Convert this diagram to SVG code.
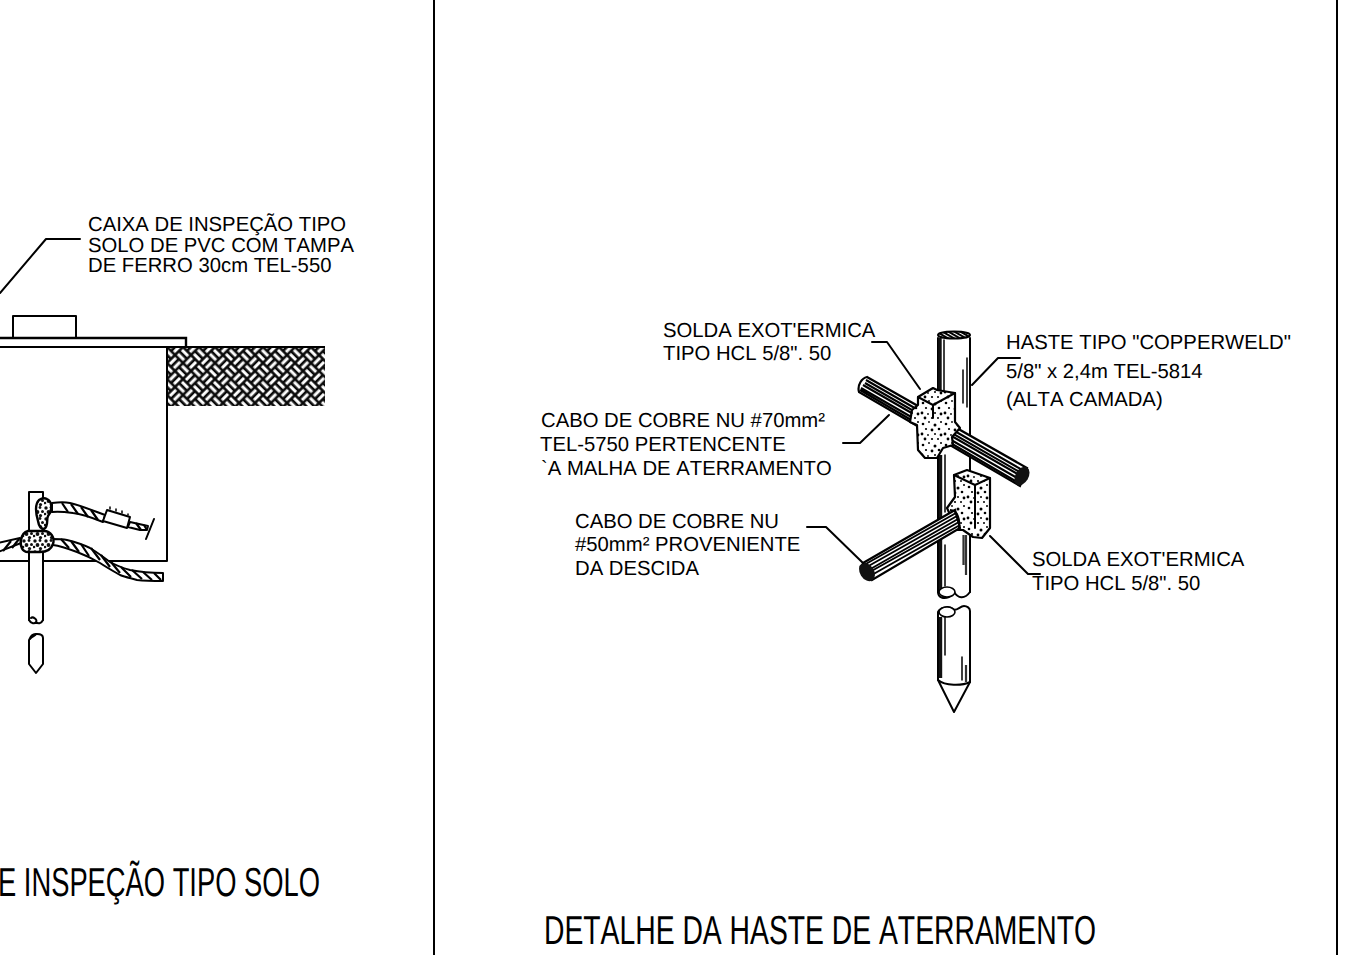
<svg xmlns="http://www.w3.org/2000/svg" width="1349" height="955" viewBox="0 0 1349 955">
<style>
text{font-family:"Liberation Sans",Arial,sans-serif;fill:#000;text-rendering:geometricPrecision;font-kerning:none}
.t{font-size:20.3px}
.h{font-size:40.5px}
.l{fill:none;stroke:#000;stroke-width:2;stroke-linejoin:round;stroke-linecap:round}
.m{fill:none;stroke:#000;stroke-width:1.5;stroke-linecap:round}
.k{fill:none;stroke:#000;stroke-width:2.2}
.w{fill:#fff;stroke:#000;stroke-width:2;stroke-linejoin:round}
.s{fill:url(#stip);stroke:#000;stroke-width:2.2;stroke-linejoin:round}
.sl{fill:url(#stip2);stroke:#000;stroke-width:2.4;stroke-linejoin:round}
.d{fill:none;stroke:#111;stroke-width:3.4}
.g{fill:none;stroke:#333;stroke-width:2.2}
</style>
<defs>
<pattern id="weave" width="22.63" height="22.63" patternUnits="userSpaceOnUse" patternTransform="translate(167 347) rotate(45)">
<rect width="22.63" height="22.63" fill="#0a0a0a"/>
<g fill="#fff">
<rect x="1.3" y="1.3" width="8.7" height="3"/><rect x="1.3" y="7" width="8.7" height="3"/>
<rect x="12.6" y="12.6" width="8.7" height="3"/><rect x="12.6" y="18.3" width="8.7" height="3"/>
<rect x="12.6" y="1.3" width="3" height="8.7"/><rect x="18.3" y="1.3" width="3" height="8.7"/>
<rect x="1.3" y="12.6" width="3" height="8.7"/><rect x="7" y="12.6" width="3" height="8.7"/>
</g>
</pattern>
<pattern id="stip" width="23" height="21" patternUnits="userSpaceOnUse">
<rect width="23" height="21" fill="#fff"/>
<g fill="#000"><circle cx="3" cy="4" r="1.3"/><circle cx="9" cy="2" r=".9"/><circle cx="15" cy="5" r="1.5"/><circle cx="21" cy="2" r="1"/><circle cx="6" cy="9" r="1.1"/><circle cx="12" cy="10" r="1.4"/><circle cx="19" cy="9" r="1.3"/><circle cx="2" cy="14" r="1.4"/><circle cx="8" cy="15" r=".9"/><circle cx="15" cy="14" r="1"/><circle cx="21" cy="15" r="1.4"/><circle cx="5" cy="19" r="1.4"/><circle cx="12" cy="19" r="1.1"/><circle cx="18" cy="19" r="1"/></g>
</pattern>
<pattern id="stip2" width="11" height="11" patternUnits="userSpaceOnUse">
<rect width="11" height="11" fill="#fff"/>
<g fill="#111"><circle cx="2" cy="2" r="1.7"/><circle cx="7" cy="1.5" r="1.4"/><circle cx="4.5" cy="6" r="1.9"/><circle cx="9.5" cy="5.5" r="1.5"/><circle cx="1" cy="8" r="1.3"/><circle cx="7.5" cy="9.5" r="1.6"/></g>
</pattern>
<pattern id="top" width="3" height="3" patternUnits="userSpaceOnUse" patternTransform="rotate(-60)">
<rect width="3" height="3" fill="#fff"/><rect width="2" height="3" fill="#000"/>
</pattern>
</defs>

<g id="frame"><path class="l" d="M434 0V955M1337 0V955"/></g>

<g id="inspection-box">
<rect x="167" y="347" width="158" height="59" fill="url(#weave)"/>
<path d="M167 347H325" stroke="#000" stroke-width="2"/>
<path class="l" d="M13 338V316H76V338"/>
<path d="M0 338H186V347" fill="none" stroke="#000" stroke-width="2.4"/>
<path class="l" d="M0 347H186M167 347V561H43M29 561H0"/>
</g>

<g id="box-rod">
<path class="l" d="M29 620V492H43V620"/>
<path class="l" d="M29 620C31 624 35 624 36 622C38 620 33 616 31 618M36 622C38 624 41 624 43 620"/>
<path class="w" d="M29 640C31 635 33 634 37 634C41 634 43 635 43 638V664L36 673L29 664Z"/>
<path class="l" d="M30 639C32 636 35 636 36 634" stroke-width="1.5"/>
</g>
<g id="box-cables">
<path class="w" d="M52 503C60 502 65 502 70 503C82 506 94 511 105 515L103 522C93 518 83 514 73 513C66 512 59 511 52 512Z"/>
<path class="k" d="M62 503l6 9M71 504l7 10M81 507l7 10M91 510l7 10"/>
<path class="w" d="M107 510L130 517L127 528L103 521Z"/>
<path class="m" d="M110 509V507M116 511V509M122 513V511M128 515V514"/>
<path class="w" d="M130 522L148 526L147 530H140L128 527Z"/>
<path class="k" d="M136 523l5 7M144 525l3 5"/>
<path class="l" d="M154 519L146 539"/>
<path class="w" d="M-2 543L20 538L21 543L-2 552Z"/>
<path class="k" d="M3 551l8 -10M12 548l7 -9"/>
<path class="w" d="M53 539C58 539 62 539 67 540C75 542 82 544 90 548C97 552 103 557 110 562C117 566 123 568 130 570C140 572 150 573 163 573V581C155 581 146 581 137 580C130 578 125 577 120 575C113 571 106 567 100 563C93 559 85 555 77 552C69 549 61 546 53 545Z"/>
<path class="k" d="M61 539l8 9M71 541l8 11M81 544l8 12M91 548l9 12M101 555l9 12M111 562l9 11M121 567l10 10M132 570l10 9M143 572l9 8M154 573l7 7"/>
<path class="sl" d="M47 499C52 501 53 510 48 516C46 520 49 526 44 529C41 529 39 527 38 521C36 514 34 505 39 500C42 498 45 498 47 499Z"/>
<path class="sl" d="M28 531H44C51 531 55 538 53 544C51 550 46 552 40 552H28C22 552 20 546 21 540C22 534 24 532 28 531Z"/>
</g>

<g id="haste-rod">
<path class="l" d="M938 338V592M970 338V592"/>
<path class="l" d="M938 592C938 598 944 599 949 597M954 592C958 598 964 600 970 592" stroke-width="1.6"/>
<ellipse cx="954" cy="335" rx="16" ry="3.5" fill="url(#top)" stroke="#000" stroke-width="2"/>
<path class="d" d="M940 338V395M940.5 455V590"/>
<path class="m" d="M944 340V394M945 455V512M945 545V586M967 358V407M963 370V403"/>
<path class="g" d="M966 535V575M963.5 535V565"/>
<ellipse cx="947" cy="592" rx="8" ry="5" fill="#fff" stroke="#000" stroke-width="1.6"/>
<path class="w" d="M938 612C940 608 948 605 953 609C956 612 960 606 964 606C967 606 970 608 970 611V682L954 712L938 680Z"/>
<ellipse cx="947" cy="612" rx="8" ry="5" fill="#fff" stroke="#000" stroke-width="1.6"/>
<path class="l" d="M938 680C945 686 962 686 970 682"/>
<path class="d" d="M940.5 617V678"/>
<path class="m" d="M945 617V655M962 657V680"/>
<path class="g" d="M966 665V682"/>
</g>

<g id="upper-cable">
<path d="M867 377L1027 468L1020 486L859 392C857 385 862 378 867 377Z" fill="#fff" stroke="#000" stroke-width="2.2"/>
<path d="M866 380L1024 471M865 383L1023 474M863 385L1021 476M861 388L1019 479M860 390L1017 482" stroke="#000" stroke-width="2.1" fill="none"/>
<ellipse cx="1022" cy="476" rx="6.5" ry="10" transform="rotate(30 1022 476)" fill="#111"/>
</g>
<g id="upper-weld">
<path class="s" d="M918 397L933 388L937 390L955 393V422L960 428L952 437L953 445L943 448L937 458H925L918 450L917 425L910 422L912 410L918 405Z"/>
<path class="l" d="M918 397L933 405L955 393M933 405V418" stroke-width="1.2"/>
</g>
<g id="lower-weld">
<path class="s" d="M954 475L967 470L990 478V528L982 538L973 537L963 530H957L947 508L955 497Z"/>
<path class="l" d="M954 475L975 485L990 478M975 485V528" stroke-width="1.2"/>
</g>
<g id="lower-cable">
<path d="M863 563L955 510L960 528L872 580Z" fill="#fff" stroke="#000" stroke-width="2.2"/>
<path d="M864 565L956 513M865 568L957 516M867 571L958 519M868 573L959 522M870 576L960 525" stroke="#000" stroke-width="2" fill="none"/>
<ellipse cx="867" cy="572" rx="7" ry="10" transform="rotate(-32 867 572)" fill="#111"/>
<path d="M950 510C958 510 960 520 959 528" fill="none" stroke="#000" stroke-width="2"/>
</g>

<g id="connectors">
<path class="l" d="M0 293L46 239H80"/>
<path class="l" d="M872 342H887L920 389"/>
<path class="l" d="M1020 358H998L972 385"/>
<path class="l" d="M843 443H860L889 415"/>
<path class="l" d="M807 527H826L863 563"/>
<path class="l" d="M990 536L1028 574H1040"/>
</g>

<g id="label-caixa" class="t"><text x="88" y="231">CAIXA DE INSPEÇÃO TIPO</text><text x="88" y="252">SOLO DE PVC COM TAMPA</text><text x="88" y="272">DE FERRO 30cm TEL-550</text></g>
<g id="label-solda1" class="t"><text x="663" y="337">SOLDA EXOT'ERMICA</text><text x="663" y="360">TIPO HCL 5/8". 50</text></g>
<g id="label-haste" class="t"><text x="1006" y="349">HASTE TIPO "COPPERWELD"</text><text x="1006" y="378">5/8" x 2,4m TEL-5814</text><text x="1006" y="406">(ALTA CAMADA)</text></g>
<g id="label-cabo70" class="t"><text x="541" y="427">CABO DE COBRE NU #70mm²</text><text x="540" y="451">TEL-5750 PERTENCENTE</text><text x="541" y="475">`A MALHA DE ATERRAMENTO</text></g>
<g id="label-cabo50" class="t"><text x="575" y="528">CABO DE COBRE NU</text><text x="575" y="551">#50mm² PROVENIENTE</text><text x="575" y="575">DA DESCIDA</text></g>
<g id="label-solda2" class="t"><text x="1032" y="566">SOLDA EXOT'ERMICA</text><text x="1032" y="590">TIPO HCL 5/8". 50</text></g>
<g id="title-left" class="h"><text x="-2" y="896" textLength="322" lengthAdjust="spacingAndGlyphs">E INSPEÇÃO TIPO SOLO</text></g>
<g id="title-right" class="h"><text x="544" y="944" textLength="552" lengthAdjust="spacingAndGlyphs">DETALHE DA HASTE DE ATERRAMENTO</text></g>
</svg>
